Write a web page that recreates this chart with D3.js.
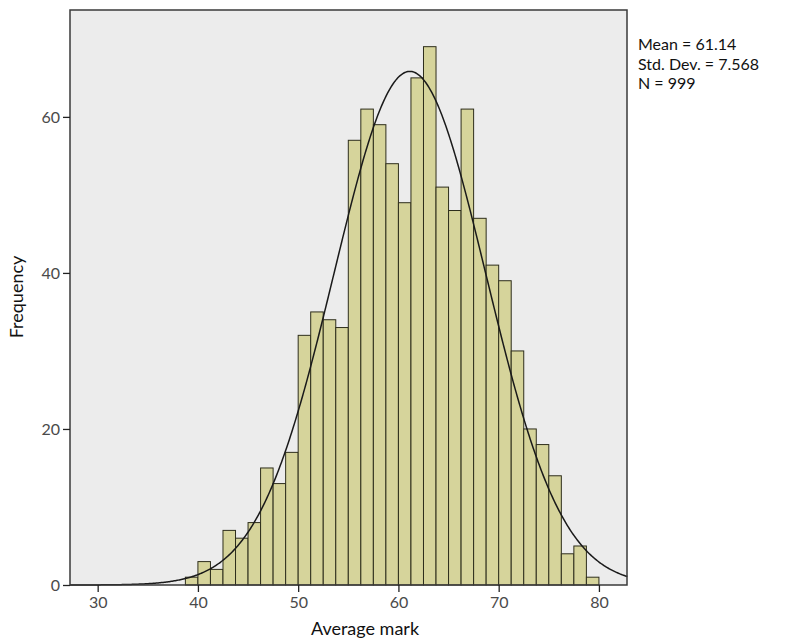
<!DOCTYPE html>
<html>
<head>
<meta charset="utf-8">
<script src="https://cdn.jsdelivr.net/npm/d3@7"></script>
<style>
  body { margin: 0; background: #fff; }
  text { font-family: Lato, "Open Sans", sans-serif; }
</style>
</head>
<body>
<div id="chart"></div>
<script>
// histogram data
var binStarts = [38.75, 40, 41.25, 42.5, 43.75, 45, 46.25, 47.5, 48.75, 50, 51.25,
                 52.5, 53.75, 55, 56.25, 57.5, 58.75, 60, 61.25, 62.5, 63.75, 65,
                 66.25, 67.5, 68.75, 70, 71.25, 72.5, 73.75, 75, 76.25, 77.5, 78.75];
var counts = [1, 3, 2, 7, 6, 8, 15, 13, 17, 32, 35,
              34, 33, 57, 61, 59, 54, 49, 65, 69, 51, 48,
              61, 47, 41, 39, 30, 20, 18, 14, 4, 5, 1];
var binWidth = 1.25;
var xTicks = [30, 40, 50, 60, 70, 80];
var yTicks = [0, 20, 40, 60];
var statLines = ["Mean = 61.14", "Std. Dev. = 7.568", "N = 999"];
var mean = 61.14, sd = 7.568, n = 999;

var width = 788, height = 641;
var plot = {left: 70, right: 627, top: 10, bottom: 585};

var svg = d3.select("#chart")
    .append("svg")
        .attr("width", width)
        .attr("height", height);

var x = d3.scaleLinear()
    .domain([27.24, 82.8])
    .range([plot.left, plot.right]);

var y = d3.scaleLinear()
    .domain([0, 73.7])
    .range([plot.bottom, plot.top]);

// plot background
svg.append("rect")
    .attr("x", plot.left)
    .attr("y", plot.top)
    .attr("width", plot.right - plot.left)
    .attr("height", plot.bottom - plot.top)
    .style("fill", "#ececec");

// bars
svg.selectAll("rect.bar")
    .data(counts)
    .enter()
    .append("rect")
    .attr("class", "bar")
    .attr("x", function(d, i) { return x(binStarts[i]); })
    .attr("width", function(d, i) { return x(binStarts[i] + binWidth) - x(binStarts[i]); })
    .attr("y", function(d) { return y(d); })
    .attr("height", function(d) { return y(0) - y(d); })
    .style("fill", "#d6d49b")
    .style("stroke", "#2e2e1c")
    .style("stroke-width", 1);

// fitted normal curve from the stats shown
var curvePts = d3.range(x.domain()[0], x.domain()[1] + 0.05, 0.1).map(function(v) {
    var z = (v - mean) / sd;
    return [v, n * binWidth / (sd * Math.sqrt(2 * Math.PI)) * Math.exp(-0.5 * z * z)];
});
svg.append("path")
    .datum(curvePts)
    .attr("d", d3.line()
        .x(function(d) { return x(d[0]); })
        .y(function(d) { return y(d[1]); }))
    .style("fill", "none")
    .style("stroke", "#1a1a1a")
    .style("stroke-width", 1.5);

// frame
svg.append("rect")
    .attr("x", plot.left)
    .attr("y", plot.top)
    .attr("width", plot.right - plot.left)
    .attr("height", plot.bottom - plot.top)
    .style("fill", "none")
    .style("stroke", "#3a3a3a")
    .style("stroke-width", 1.5);

// axes
var xAxis = svg.append("g")
    .attr("transform", "translate(0," + plot.bottom + ")")
    .call(d3.axisBottom(x).tickValues(xTicks).tickSize(7).tickPadding(5));
var yAxis = svg.append("g")
    .attr("transform", "translate(" + plot.left + ",0)")
    .call(d3.axisLeft(y).tickValues(yTicks).tickSize(7).tickPadding(3));

[xAxis, yAxis].forEach(function(g) {
    g.select(".domain").remove();
    g.selectAll("line").style("stroke", "#222").style("stroke-width", 1.3);
    g.selectAll("text")
        .style("font-family", "Lato, 'Open Sans', sans-serif")
        .style("font-size", "16px")
        .style("fill", "#4a4a4a");
});

// axis titles
svg.append("text")
    .attr("x", 365)
    .attr("y", 635)
    .attr("text-anchor", "middle")
    .style("font-size", "18px")
    .style("fill", "#111")
    .text("Average mark");

svg.append("text")
    .attr("transform", "translate(23,297)rotate(-90)")
    .attr("text-anchor", "middle")
    .style("font-size", "18px")
    .style("fill", "#111")
    .text("Frequency");

// stats box
svg.selectAll("text.stat")
    .data(statLines)
    .enter()
    .append("text")
    .attr("class", "stat")
    .attr("x", 638)
    .attr("y", function(d, i) { return 50 + i * 19.5; })
    .style("font-size", "16px")
    .style("fill", "#111")
    .text(function(d) { return d; });
</script>
</body>
</html>
